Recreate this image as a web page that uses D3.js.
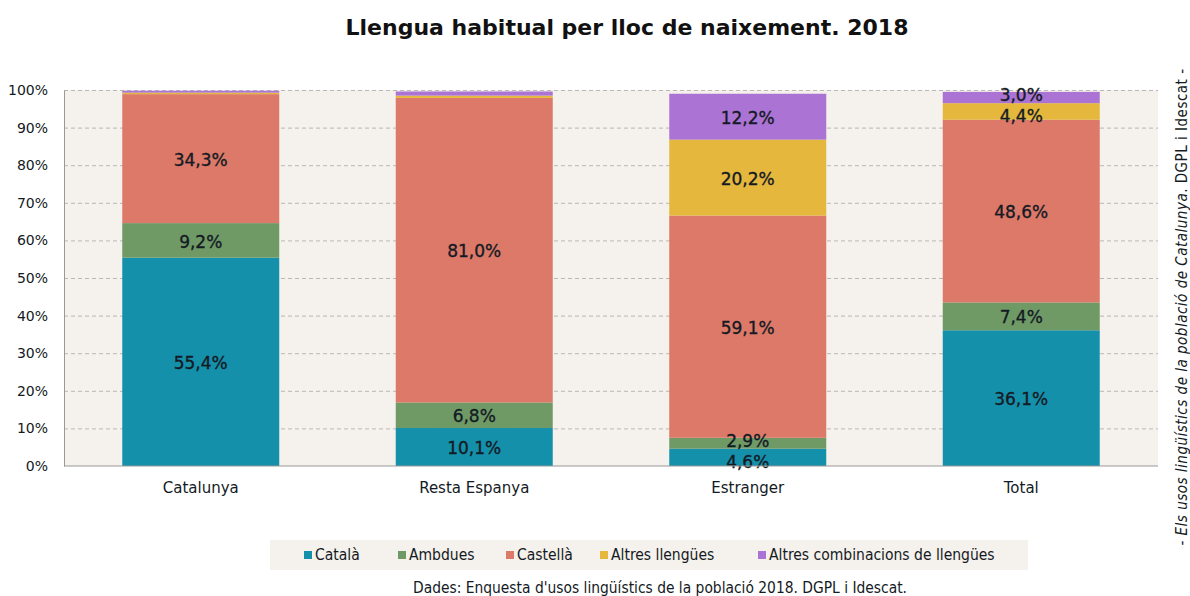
<!DOCTYPE html>
<html><head><meta charset="utf-8">
<script src="https://cdn.jsdelivr.net/npm/d3@7"></script>
<style>body{margin:0;background:#fff}</style>
</head><body>
<script>
const categories = ["Catalunya","Resta Espanya","Estranger","Total"];
const seriesNames = ["Català","Ambdues","Castellà","Altres llengües","Altres combinacions de llengües"];
const catala   = [55.4, 10.1, 4.6, 36.1];
const ambdues  = [9.2, 6.8, 2.9, 7.4];
const castella = [34.3, 81.0, 59.1, 48.6];
const altres   = [0.4, 0.6, 20.2, 4.4];
const combin   = [0.5, 1.1, 12.2, 3.0];
const yTicks = [0,10,20,30,40,50,60,70,80,90,100];
const colors = ["#1590ab","#6f9a66","#dc7968","#e5b73c","#ab73d4"];
const labelMin = 2.5;

const W=1190,H=596;
const svg=d3.select("body").append("svg").attr("width",W).attr("height",H);
const pL=64,pR=1158,pT=90,pB=466;
const txt="#141a24";
svg.append("rect").attr("x",pL).attr("y",pT).attr("width",pR-pL).attr("height",pB-pT).attr("fill","#f5f1ec");

const x=d3.scaleBand().domain(categories).range([pL,pR]).paddingInner(0.426).paddingOuter(0.213);
const y=d3.scaleLinear().domain([0,100]).range([pB,pT]);

// grid
svg.append("g").selectAll("line").data(yTicks.filter(d=>d>0)).join("line")
  .attr("x1",pL).attr("x2",pR).attr("y1",d=>y(d)+0.5).attr("y2",d=>y(d)+0.5)
  .attr("stroke","#b8b8b8").attr("stroke-dasharray","4,3").attr("stroke-width",1);

const rows=categories.map((c,i)=>({cat:c,"Català":catala[i],"Ambdues":ambdues[i],"Castellà":castella[i],"Altres llengües":altres[i],"Altres combinacions de llengües":combin[i]}));
const stack=d3.stack().keys(seriesNames)(rows);

const g=svg.append("g");
stack.forEach((layer,k)=>{
  g.append("g").selectAll("rect").data(layer).join("rect")
   .attr("x",d=>x(d.data.cat)).attr("width",x.bandwidth())
   .attr("y",d=>y(d[1])).attr("height",d=>y(d[0])-y(d[1]))
   .attr("fill",colors[k]);
});

// labels with simple collision separation per bar
const minSep=21;
const labels=[];
categories.forEach(c=>{
  const col=[];
  stack.forEach(layer=>{
    const d=layer.find(e=>e.data.cat===c);
    if(d[1]-d[0]>=labelMin) col.push({cat:c,v:d[1]-d[0],cy:y((d[0]+d[1])/2)});
  });
  for(let i=1;i<col.length;i++){
    const gap=col[i-1].cy-col[i].cy;
    if(gap<minSep){const s=(minSep-gap)/2;col[i-1].cy+=s;col[i].cy-=s;}
  }
  labels.push(...col);
});
g.append("g").selectAll("text").data(labels).join("text")
   .attr("x",d=>x(d.cat)+x.bandwidth()/2).attr("y",d=>d.cy)
   .attr("dy","0.42em").attr("text-anchor","middle")
   .attr("font-family","DejaVu Sans").attr("font-size",17).attr("fill",txt)
   .attr("stroke",txt).attr("stroke-width",0.35)
   .text(d=>d3.format(".1f")(d.v).replace(".",",")+"%");

// axes
const ya=svg.append("g").attr("transform",`translate(${pL},0)`)
  .call(d3.axisLeft(y).tickValues(yTicks).tickFormat(d=>d+"%").tickSize(0).tickPadding(16));
ya.select(".domain").attr("stroke","#999");
ya.selectAll("text").attr("font-family","DejaVu Sans").attr("font-size",14).attr("fill",txt);
const xa=svg.append("g").attr("transform",`translate(0,${pB})`)
  .call(d3.axisBottom(x).tickSize(0).tickPadding(16));
xa.select(".domain").attr("stroke","#999").attr("d",`M${pL},0H${pR}`);
xa.selectAll("text").attr("font-family","DejaVu Sans").attr("font-size",15).attr("fill",txt);

// title
svg.append("text").attr("x",627).attr("y",35).attr("text-anchor","middle")
  .attr("font-family","DejaVu Sans").attr("font-weight","bold").attr("font-size",22).attr("fill","#111")
  .text("Llengua habitual per lloc de naixement. 2018");

// legend
svg.append("rect").attr("x",270).attr("y",540).attr("width",758).attr("height",30).attr("fill","#f5f1ec");
const legX=[304,398,506,600,758];
seriesNames.forEach((n,i)=>{
  svg.append("rect").attr("x",legX[i]).attr("y",551).attr("width",8).attr("height",8).attr("fill",colors[i]);
  svg.append("text").attr("x",legX[i]+11).attr("y",555).attr("dy","0.35em")
   .attr("font-family","DejaVu Sans Condensed, DejaVu Sans").attr("font-size",15.5).attr("fill",txt).text(n);
});

svg.append("text").attr("x",660).attr("y",593).attr("text-anchor","middle")
  .attr("font-family","DejaVu Sans Condensed, DejaVu Sans").attr("font-size",15.4).attr("fill",txt)
  .text("Dades: Enquesta d'usos lingüístics de la població 2018. DGPL i Idescat.");

const vt=svg.append("text").attr("transform","translate(1187,307) rotate(-90)").attr("text-anchor","middle")
  .attr("font-family","DejaVu Sans Condensed, DejaVu Sans").attr("font-size",15).attr("letter-spacing",0.5).attr("fill",txt);
vt.append("tspan").text("- ");
vt.append("tspan").attr("font-style","italic").text("Els usos lingüístics de la població de Catalunya");
vt.append("tspan").text(". DGPL i Idescat -");
</script>
</body></html>
